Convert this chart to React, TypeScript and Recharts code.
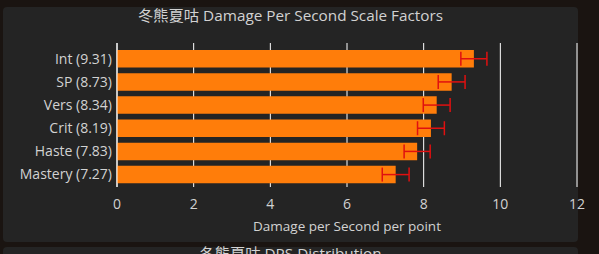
import React from 'react';
import { BarChart, Bar, XAxis, YAxis, CartesianGrid, ErrorBar } from 'recharts';

const stats = ['Int', 'SP', 'Vers', 'Crit', 'Haste', 'Mastery'];
const values = [9.31, 8.73, 8.34, 8.19, 7.83, 7.27];
const errors = [0.34, 0.35, 0.35, 0.35, 0.34, 0.35];
const xTicks = [0, 2, 4, 6, 8, 10, 12];

const data = stats.map((s, i) => ({
  name: `${s} (${values[i].toFixed(2)})`,
  value: values[i],
  err: errors[i],
}));

const font = '"Open Sans", "Noto Sans CJK TC", sans-serif';
const textColor = '#d2d2d2';

const App: React.FC = () => {
  return (
    <div style={{ position: 'fixed', left: 0, top: 0, width: 599, height: 254, background: '#1a1411', overflow: 'hidden', fontFamily: font }}>
      <div style={{ position: 'absolute', left: 3, top: 7, width: 575, height: 235, background: '#242424', borderRadius: 4 }} />
      <div style={{ position: 'absolute', left: 3, top: 247, width: 575, height: 30, background: '#242424', borderRadius: 4 }} />
      <div style={{ position: 'absolute', left: 3, width: 575, top: 5, textAlign: 'center', fontSize: 15.3, color: textColor, lineHeight: '20px' }}>
        冬熊夏咕 Damage Per Second Scale Factors
      </div>
      <div style={{ position: 'absolute', left: 3, width: 575, top: 243, textAlign: 'center', fontSize: 15.3, color: textColor, lineHeight: '20px' }}>
        冬熊夏咕 DPS Distribution
      </div>
      <div style={{ position: 'absolute', left: 0, top: 0 }}>
        <BarChart
          width={599}
          height={254}
          data={data}
          layout="vertical"
          margin={{ top: 43, right: 22, bottom: 22, left: 5 }}
          barCategoryGap={3}
        >
          <CartesianGrid horizontal={false} vertical stroke="#ffffff" strokeWidth={1} />
          <XAxis
            type="number"
            domain={[0, 12]}
            ticks={xTicks}
            height={45}
            axisLine={false}
            tickLine={false}
            tickMargin={6}
            tick={{ fill: textColor, fontSize: 14, fontFamily: font }}
            label={{ value: 'Damage per Second per point', position: 'insideBottom', offset: 1, fill: textColor, fontSize: 13.5, fontFamily: font }}
          />
          <YAxis
            type="category"
            dataKey="name"
            width={112}
            padding={{ top: 4, bottom: 1 }}
            axisLine={{ stroke: '#ffffff' }}
            tickLine={false}
            tickSize={3}
            tickMargin={2}
            tick={{ fill: textColor, fontSize: 14, fontFamily: font }}
            interval={0}
          />
          <Bar dataKey="value" fill="#ff7d0a" barSize={17.5} isAnimationActive={false}>
            <ErrorBar dataKey="err" direction="x" width={7} stroke="#e01010" strokeWidth={1.5} isAnimationActive={false} />
          </Bar>
        </BarChart>
      </div>
    </div>
  );
};

export default App;
